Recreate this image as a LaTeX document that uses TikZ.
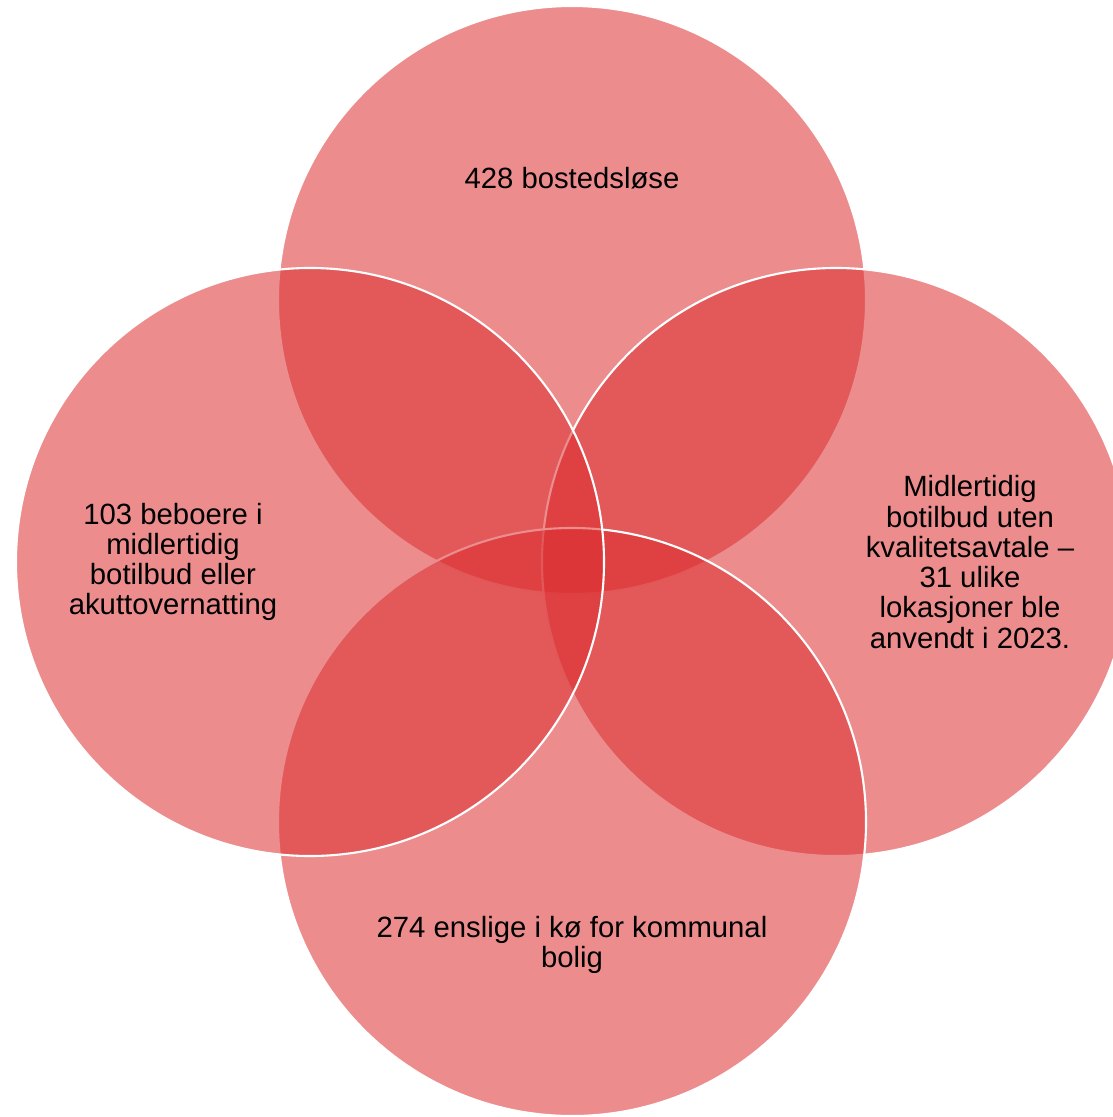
\documentclass[tikz,border=0pt]{standalone}
\usepackage{fontspec}
\setmainfont{Liberation Sans}
\usepackage{tikz}
\usetikzlibrary{positioning}

\definecolor{vennred}{RGB}{220,46,48}

\begin{document}
\begin{tikzpicture}[%
    x=0.03cm,
    y=-0.03cm,
    set/.style={circle, fill=vennred, fill opacity=0.55, draw=white,
                line width=1.8pt, inner sep=0pt, minimum size=17.64cm},
    label/.style={align=center, text=black,
                  font=\fontsize{25}{25.8}\selectfont}
    ]
    \useasboundingbox (0,0) rectangle (1112,1117);

    \node[set] (top)    at (572,300) {};
    \node[set] (right)  at (836,562) {};
    \node[set] (bottom) at (572,822) {};
    \node[set] (left)   at (310,562) {};

    \node[label] (homeless) at (572,178) {428 bostedsløse};
    \node[label] (temporary) at (173,562) {103 beboere i\\midlertidig\\botilbud eller\\akuttovernatting};
    \node[label] (noagreement) at (970,562) {Midlertidig\\botilbud uten\\kvalitetsavtale --\\31 ulike\\lokasjoner ble\\anvendt i 2023.};
    \node[label] (queue) at (572,945) {274 enslige i kø for kommunal\\bolig};
\end{tikzpicture}
\end{document}
